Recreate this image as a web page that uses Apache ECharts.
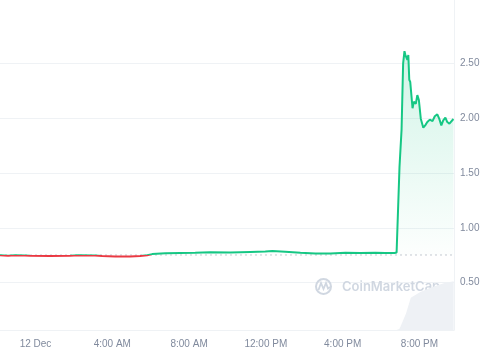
<!DOCTYPE html>
<html>
<head>
<meta charset="utf-8">
<script src="https://cdn.jsdelivr.net/npm/echarts@6/dist/echarts.min.js"></script>
<style>
html,body{margin:0;padding:0;background:#fff;}
#chart{width:485px;height:360px;}
</style>
</head>
<body>
<div id="chart"></div>
<script>
// Hours relative to 00:00 on 12 Dec
var hours = [-1.85,-1.43,-1.07,-0.55,-0.29,0.76,1.80,2.22,3.10,3.47,4.15,4.93,5.45,5.82,6.08,6.76,7.54,8.32,9.10,10.15,11.19,11.97,12.34,13.01,13.80,14.58,15.36,16.14,16.92,17.70,18.23,18.70,18.81,18.96,19.07,19.15,19.22,19.27,19.33,19.37,19.42,19.47,19.52,19.64,19.71,19.81,19.89,19.97,20.07,20.20,20.30,20.41,20.54,20.68,20.80,20.93,21.03,21.14,21.24,21.35,21.45,21.56,21.66,21.77];
var prices = [0.750,0.746,0.749,0.748,0.744,0.743,0.744,0.749,0.748,0.743,0.739,0.738,0.742,0.749,0.760,0.768,0.770,0.772,0.776,0.775,0.780,0.783,0.788,0.782,0.772,0.765,0.766,0.772,0.770,0.773,0.771,0.770,0.775,1.55,1.90,2.50,2.61,2.575,2.59,2.53,2.576,2.35,2.33,2.09,2.15,2.13,2.21,2.165,1.995,1.913,1.934,1.964,1.986,1.973,2.017,2.035,1.995,1.934,1.98,2.004,1.964,1.95,1.955,1.992];
var volHours = [-1.85,18.80,18.95,19.01,19.30,19.55,20.05,20.57,21.26,21.78];
var volumes = [0,0,0.3,1.0,5.0,9.8,11.5,12.8,14.2,14.8];
var baseline = 0.752;
var priceTicks = [0.5,1.0,1.5,2.0,2.5];
var timeTicks = [0,4,8,12,16,20];
var timeLabels = ['12 Dec','4:00 AM','8:00 AM','12:00 PM','4:00 PM','8:00 PM'];
var xMin = -1.85, xMax = 21.8;

var priceData = hours.map(function(h,i){return [h,prices[i]];});
var volData = volHours.map(function(h,i){return [h,volumes[i]];});
var baseData = [[xMin,baseline],[xMax,baseline]];
var FONT = 'Liberation Sans, Arial, sans-serif';
var GREEN = '#16c784', RED = '#ea3943';

var chart = echarts.init(document.getElementById('chart'), null, {renderer:'canvas'});
chart.setOption({
  animation:false,
  backgroundColor:'#ffffff',
  grid:{left:0,right:31,top:0,bottom:30,containLabel:false},
  xAxis:{
    type:'value', min:xMin, max:xMax,
    axisLine:{show:true,onZero:false,lineStyle:{color:'#eff2f5',width:1}},
    axisTick:{show:false,customValues:timeTicks},
    splitLine:{show:false},
    axisLabel:{customValues:timeTicks,margin:9,color:'#808a9d',fontSize:10,fontFamily:FONT,
      formatter:function(v){var i=timeTicks.indexOf(v);return i>=0?timeLabels[i]:'';}}
  },
  yAxis:[{
    type:'value', position:'right', min:0.068, max:3.077,
    axisLine:{show:true,onZero:false,lineStyle:{color:'#eff2f5',width:1}},
    axisTick:{show:false,customValues:priceTicks},
    splitLine:{show:true,lineStyle:{color:'#eff2f5',width:1}},
    axisLabel:{customValues:priceTicks,margin:6,color:'#808a9d',fontSize:10,fontFamily:FONT,
      formatter:function(v){return v.toFixed(2);}}
  },{
    type:'value', min:0, max:100, show:false, splitLine:{show:false}
  }],
  graphic:[
    {type:'circle',z:1,shape:{cx:323.5,cy:286.5,r:7.5},style:{fill:'none',stroke:'#d0d7e1',lineWidth:2}},
    {type:'polyline',z:1,shape:{points:[[318.5,290],[321,283],[323.5,289],[326,283],[328,288.5],[330,287]]},style:{fill:'none',stroke:'#d0d7e1',lineWidth:1.8}},
    {type:'text',z:1,left:342,top:281,style:{text:'CoinMarketCap',fill:'#d0d7e1',fontSize:13,fontWeight:600,fontFamily:'Inter, sans-serif'}}
  ],
  series:[{
    type:'line', yAxisIndex:1, data:volData, symbol:'none', silent:true, z:1,
    lineStyle:{width:0}, itemStyle:{color:'#eff2f5'},
    areaStyle:{color:'#eef1f5',opacity:1}
  },{
    type:'line', yAxisIndex:0, data:priceData, symbol:'none', z:3,
    lineStyle:{width:2,color:GREEN}, itemStyle:{color:GREEN},
    areaStyle:{origin:baseline,color:{type:'linear',x:0,y:0,x2:0,y2:1,colorStops:[
      {offset:0,color:'rgba(22,199,132,0.28)'},{offset:1,color:'rgba(22,199,132,0.01)'}]}}
  },{
    type:'line', yAxisIndex:0, data:baseData, symbol:'none', silent:true, z:2,
    lineStyle:{type:[2,3],color:'#c4c9d1',width:1}
  }]
});
// colour the line red below the opening price, green above, split at the baseline pixel
var by = chart.convertToPixel({yAxisIndex:0}, baseline);
var off = by / 360;
chart.setOption({series:[{},{lineStyle:{color:{type:'linear',global:true,x:0,y:0,x2:0,y2:360,colorStops:[
  {offset:0,color:GREEN},{offset:off,color:GREEN},{offset:off,color:RED},{offset:1,color:RED}]}}},{}]});
</script>
</body>
</html>
